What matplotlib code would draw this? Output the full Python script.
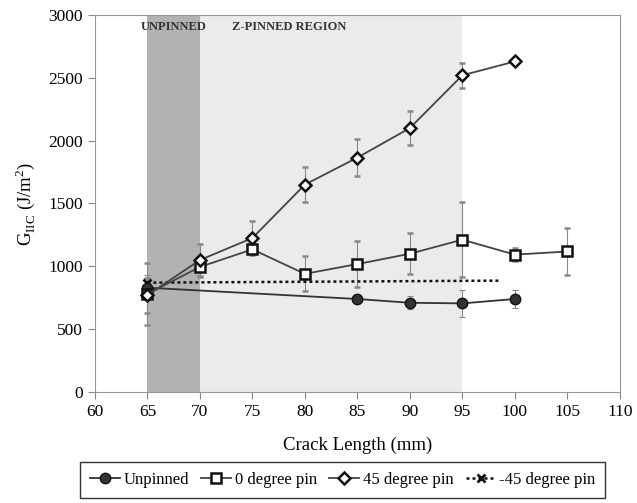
import numpy as np
import matplotlib.pyplot as plt

plt.rcParams['font.family'] = ['Liberation Serif', 'DejaVu Serif']
plt.rcParams['mathtext.fontset'] = 'custom'
plt.rcParams['mathtext.rm'] = 'Liberation Serif'

# data
x_unp = [65, 85, 90, 95, 100]
y_unp = [830, 740, 710, 705, 740]
e_unp = [100, 20, 50, 105, 70]

x_0 = [65, 70, 75, 80, 85, 90, 95, 100, 105]
y_0 = [780, 995, 1135, 940, 1018, 1100, 1212, 1093, 1118]
e_0 = [250, 80, 0, 140, 180, 165, 300, 50, 190]

x_45 = [65, 70, 75, 80, 85, 90, 95, 100]
y_45 = [770, 1050, 1225, 1650, 1865, 2100, 2520, 2630]
e_45 = [140, 130, 135, 140, 150, 135, 100, 0]

x_m45 = [65, 98.5]
y_m45 = [870, 886]

fig = plt.figure(figsize=(6.37, 5.03), dpi=100)
ax = fig.add_axes([0.149, 0.2207, 0.824, 0.7495])

ax.axvspan(65, 70, color='#b2b2b2', lw=0, zorder=0)
ax.axvspan(70, 95, color='#ebebeb', lw=0, zorder=0)
ax.text(67.5, 2950, 'UNPINNED', ha='center', va='top', fontsize=9, fontweight='bold', color='#333333')
ax.text(78.5, 2950, 'Z-PINNED REGION', ha='center', va='top', fontsize=9, fontweight='bold', color='#333333')

eb = dict(ecolor='#888888', elinewidth=0.8, capsize=2.5, capthick=0.8)
h1 = ax.errorbar(x_unp, y_unp, yerr=e_unp, color='#333333', marker='o', ms=7.5,
                 mfc='#333333', mec='#111111', lw=1.3, **eb)
h2 = ax.errorbar(x_0, y_0, yerr=e_0, color='#444444', marker='s', ms=7,
                 mfc='white', mec='#111111', mew=1.8, lw=1.3, **eb)
h3 = ax.errorbar(x_45, y_45, yerr=e_45, color='#444444', marker='D', ms=6,
                 mfc='white', mec='#111111', mew=1.8, lw=1.3, **eb)
h4, = ax.plot(x_m45, y_m45, color='#111111', ls=(0, (1.2, 1.2)), lw=1.8,
              marker='x', markevery=[0], ms=6, mew=2)

ax.set_xlim(60, 110)
ax.set_ylim(0, 3000)
ax.set_xticks(np.arange(60, 111, 5))
ax.set_yticks(np.arange(0, 3001, 500))
ax.tick_params(labelsize=12.5, direction='out', length=5, color='#888888')
for s in ax.spines.values():
    s.set_color('#999999')
ax.set_xlabel('Crack Length (mm)', fontsize=13.5, labelpad=12)
ax.set_ylabel(r'G$_{\mathrm{IIC}}$ (J/m$^2$)', fontsize=13.5, labelpad=8)

handles = [h1[0], h2[0], h3[0], h4]
labels = ['Unpinned', '0 degree pin', '45 degree pin', '-45 degree pin']
leg = fig.legend(handles, labels, loc='lower center', bbox_to_anchor=(0.538, -0.006), ncol=4,
                 fontsize=12, frameon=True, fancybox=False, edgecolor='black',
                 handlelength=1.8, handletextpad=0.2, columnspacing=0.75, borderpad=0.6)
leg.get_frame().set_linewidth(1.0)

fig.savefig('out.png', dpi=100)
